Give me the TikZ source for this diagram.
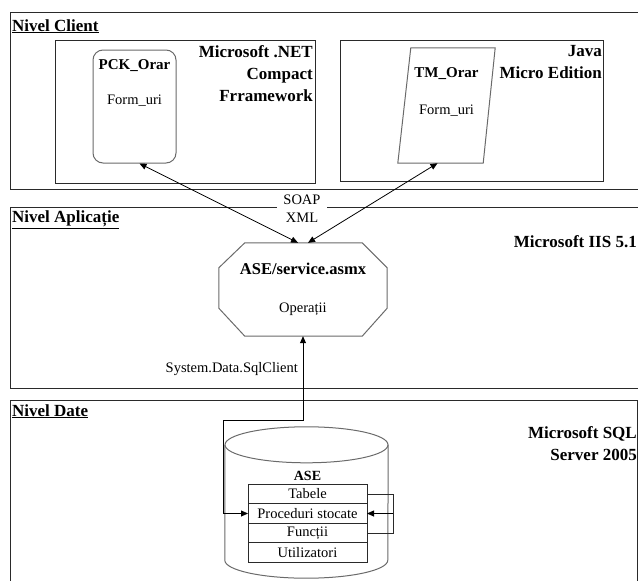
\documentclass[tikz,border=0pt]{standalone}
\usepackage{fontspec}
\setmainfont{Liberation Serif}
\usetikzlibrary{positioning,calc,arrows.meta}
\definecolor{ink}{HTML}{2A2A2A}
\definecolor{edge}{HTML}{6A6A6A}

\begin{document}
\begin{tikzpicture}[x=1pt,y=-1pt,
  band/.style={draw=ink,line width=1pt},
  frame/.style={draw=ink,line width=0.9pt},
  part/.style={draw=edge,line width=1pt},
  title/.style={anchor=base west,inner sep=0pt,font=\fontsize{17}{20}\selectfont\bfseries},
  platform/.style={anchor=north east,inner sep=0pt,align=right,font=\fontsize{17}{22}\selectfont\bfseries},
  plain/.style={inner sep=0pt,font=\fontsize{14.5}{17}\selectfont},
  row/.style={draw=ink,line width=0.8pt,minimum width=119pt,minimum height=19.5pt,
    inner sep=0pt,outer sep=0pt,font=\fontsize{14.5}{17}\selectfont},
  link/.style={{Triangle[length=7pt,width=6pt]}-{Triangle[length=7pt,width=6pt]},draw=black,line width=0.8pt},
  tip/.style={-{Triangle[length=7pt,width=6pt]},draw=black,line width=0.8pt}]
  \useasboundingbox (0,0) rectangle (638,581);
  % the three tiers
  \draw[band] (638,12) -- (10,12) -- (10,189) -- (638,189);
  \draw[band] (638,207) -- (10,207) -- (10,388) -- (638,388);
  \draw[band] (10,581) -- (10,400) -- (637,400) -- (637,581);
  \node[title] (tc) at (12,31) {\underline{Nivel Client}};
  \node[title] (ta) at (12,222) {\underline{Nivel Aplicație}};
  \node[title] (td) at (12,416) {\underline{Nivel Date}};

  % client platforms
  \draw[frame] (55,40) rectangle (315,183);
  \draw[frame] (340,40) rectangle (603,181);
  \node[platform] (net) at (313,45) {Microsoft .NET\\Compact\\Frramework};
  \node[platform] (jme) at (602,45) {Java\\Micro Edition};
  \node[part,rounded corners=10pt,minimum width=83,minimum height=113,
    label={[plain,anchor=north,yshift=-10pt,align=center]north:{{\fontsize{15}{17}\selectfont\bfseries PCK\_Orar}\\[18pt]Form\_uri}}]
    (pck) at (134.5,106.5) {};
  \node[minimum width=97,minimum height=115,inner sep=0pt,
    label={[plain,anchor=north,yshift=-20pt,align=center]north:{{\fontsize{15}{17}\selectfont\bfseries TM\_Orar}\\[20pt]Form\_uri}}]
    (tm) at (446.5,105.5) {};
  \draw[part] ([xshift=13pt]tm.north west) -- (tm.north east)
    -- ([xshift=-12pt]tm.south east) -- (tm.south west) -- cycle;

  % application tier
  \node[plain,fill=white,inner xsep=6pt,inner ysep=1pt,align=center,
    font=\fontsize{14.5}{18}\selectfont] (soap) at (302,209) {SOAP\\XML};
  \node[plain,minimum width=168,minimum height=93,align=center] (svc) at (303,289.5)
    {{\fontsize{16.5}{18}\selectfont\bfseries ASE/service.asmx}\\[21pt]Operații};
  \draw[part] ([xshift=26pt]svc.north west) -- ([xshift=-25pt]svc.north east)
    -- ([yshift=-25pt]svc.north east) -- ([yshift=28pt]svc.south east)
    -- ([xshift=-25pt]svc.south east) -- ([xshift=26pt]svc.south west)
    -- ([yshift=28pt]svc.south west) -- ([yshift=-25pt]svc.north west) -- cycle;
  \node[platform,anchor=base east] (iis) at (637,247) {Microsoft IIS 5.1};
  \node[plain,anchor=base east] (sql) at (298,372) {System.Data.SqlClient};

  % data tier
  \node[platform] (srv) at (637,426) {Microsoft SQL\\Server 2005};
  \node[inner sep=0pt,minimum width=163,minimum height=151] (db) at (306.5,502.5) {};
  \draw[part] ([yshift=-18pt]db.north) ellipse [x radius=81.5pt,y radius=18pt];
  \draw[part] ([yshift=-18pt]db.north west) -- ([yshift=18pt]db.south west)
    arc[start angle=180,end angle=360,x radius=81.5pt,y radius=18pt]
    -- ([yshift=-18pt]db.north east);
  \node[inner sep=0pt,anchor=base,font=\fontsize{14}{16}\selectfont\bfseries] (ase) at (307.5,480) {ASE};
  \node[row] (tab) at (307.5,494) {Tabele};
  \node[row,below=0pt of tab] (proc) {Proceduri stocate};
  \node[row,below=0pt of proc] (fun) {Funcții};
  \node[row,below=0pt of fun] (usr) {Utilizatori};

  % connectors
  \draw[link] ([xshift=5pt]pck.south) -- ([xshift=-5pt]svc.north);
  \draw[link] ([xshift=-9pt]tm.south) -- ([xshift=5pt]svc.north);
  \coordinate (turn) at (223,420);
  \draw[link] (svc.south) |- (turn) |- (proc.west);
  \coordinate (loop) at (393,0);
  \draw[frame] (tab.east) -- (tab.east -| loop) -- (fun.east -| loop) -- (fun.east);
  \draw[tip] (proc.east -| loop) -- (proc.east);
\end{tikzpicture}
\end{document}
